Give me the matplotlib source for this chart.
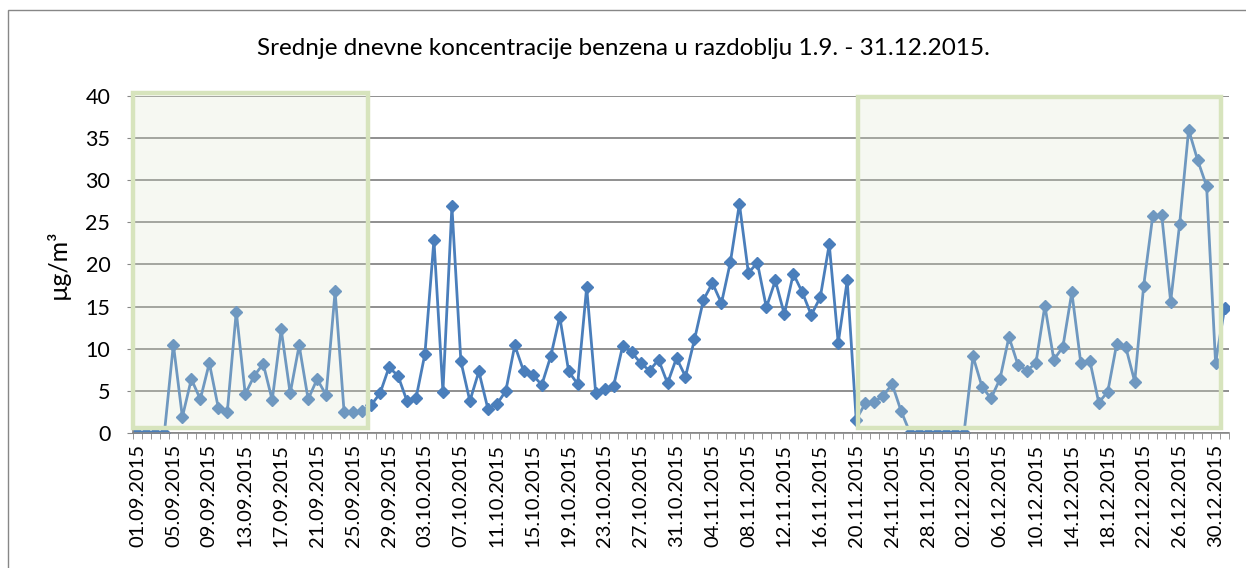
import matplotlib
matplotlib.use("Agg")
import matplotlib.pyplot as plt
from matplotlib.patches import Rectangle
import pandas as pd
import numpy as np

plt.rcParams['font.family'] = ['Lato', 'DejaVu Sans']

# daily dates 1.9. - 31.12.2015
dates = pd.date_range('2015-09-01', '2015-12-31', freq='D')
date_labels = [d.strftime('%d.%m.%Y') for d in dates]

# benzene, daily means (ug/m3)
sep = [0, 0, 0, 0, 10.5, 1.9, 6.4, 4.0, 8.3, 3.0,
       2.5, 14.4, 4.6, 6.8, 8.2, 3.9, 12.3, 4.7, 10.4, 4.0,
       6.4, 4.5, 16.8, 2.5, 2.5, 2.6, 3.3, 4.7, 7.8, 6.8]
oct_ = [3.8, 4.1, 9.4, 22.9, 4.9, 26.9, 8.5, 3.8, 7.3, 2.9,
        3.4, 5.0, 10.4, 7.3, 6.9, 5.7, 9.1, 13.8, 7.3, 5.8,
        17.3, 4.8, 5.2, 5.6, 10.3, 9.6, 8.3, 7.4, 8.7, 5.9, 8.9]
nov = [6.7, 11.1, 15.8, 17.8, 15.4, 20.3, 27.2, 19.0, 20.2, 14.9,
       18.1, 14.1, 18.9, 16.7, 14.0, 16.1, 22.4, 10.7, 18.1, 1.6,
       3.5, 3.7, 4.4, 5.8, 2.6, 0, 0, 0, 0, 0]
dec = [0, 0, 9.1, 5.5, 4.1, 6.4, 11.4, 8.1, 7.4, 8.3,
       15.1, 8.7, 10.2, 16.7, 8.3, 8.6, 3.6, 4.9, 10.6, 10.2,
       6.1, 17.5, 25.7, 25.9, 15.6, 24.8, 36.0, 32.4, 29.3, 8.3, 14.8]
benzene = sep + oct_ + nov + dec

# highlighted periods (left, right, top) in axis units
boxes = [(-0.45, 25.7, 40.3), (80.2, 120.55, 39.9)]

x = np.arange(len(benzene))

fig = plt.figure(figsize=(12.46, 5.68), dpi=100)
ax = fig.add_axes([0.1067, 0.2377, 0.8797, 0.5933])

ax.plot(x, benzene, color='#4a7ebb', lw=2.0, marker='D', ms=6,
        markeredgecolor='#4a7ebb', zorder=2)

for x0, x1, top in boxes:
    ax.add_patch(Rectangle((x0, 0.6), x1 - x0, top - 0.6, facecolor='#dfe7cf',
                           alpha=0.25, edgecolor='none', zorder=3, clip_on=False))
    ax.add_patch(Rectangle((x0, 0.6), x1 - x0, top - 0.6, fill=False,
                           edgecolor='#d7e4bd', lw=3.2, zorder=4, clip_on=False))

ax.set_xlim(-0.5, len(benzene) - 0.5)
ax.set_ylim(0, 40)
ax.set_yticks(range(0, 41, 5))
ax.tick_params(axis='y', labelsize=15.5, length=4.3, color='#878787', pad=12)
ax.set_xticks(x[::4])
ax.set_xticklabels(date_labels[::4], rotation=90, fontsize=14.5)
ax.set_xticks(np.arange(-0.5, len(benzene)), minor=True)
ax.tick_params(axis='x', which='major', length=0, pad=8)
ax.tick_params(axis='x', which='minor', length=4.5, color='#878787')
ax.grid(axis='y', color='#878787', lw=1.3)
ax.set_axisbelow(True)
for s in ['top', 'right']:
    ax.spines[s].set_visible(False)
for s in ['left', 'bottom']:
    ax.spines[s].set_color('#878787')
    ax.spines[s].set_linewidth(1.2)

ax.set_ylabel('µg/m³', fontsize=18, labelpad=11)
fig.text(0.5, 0.915, 'Srednje dnevne koncentracije benzena u razdoblju 1.9. - 31.12.2015.',
         ha='center', va='center', fontsize=17.5)

# chart border
fig.add_artist(Rectangle((8 / 1246, -0.1), 1.2, (568 - 10) / 568 + 0.1,
                         transform=fig.transFigure, fill=False,
                         edgecolor='#878787', lw=1.0))

fig.savefig('out.png', dpi=100)
